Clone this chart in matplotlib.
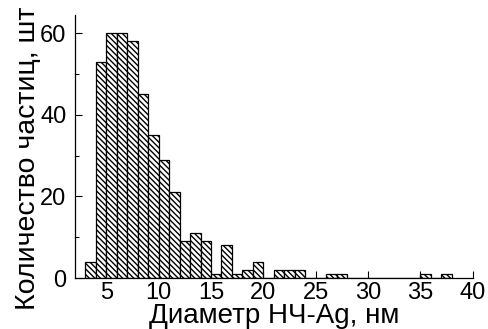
import matplotlib.pyplot as plt
import numpy as np

plt.rcParams['font.family'] = ['Liberation Sans', 'DejaVu Sans']
plt.rcParams['hatch.linewidth'] = 1.0

# bin left edges (nm) and particle counts
bin_left = np.arange(3, 38)
counts = [4, 53, 60, 60, 58, 45, 35, 29, 21, 9, 11, 9, 1, 8, 1, 2, 4, 0,
          2, 2, 2, 0, 0, 1, 1, 0, 0, 0, 0, 0, 0, 0, 1, 0, 1]

fig = plt.figure(figsize=(4.89, 3.29), dpi=100)
ax = fig.add_axes([0.153, 0.155, 0.814, 0.799])

ax.bar(bin_left, counts, width=1, align='edge', color='white',
       edgecolor='black', linewidth=0.9, hatch='\\' * 6)

ax.set_xlim(2, 40)
ax.set_ylim(0, 64.4)
ax.set_xticks(np.arange(5, 41, 5))
ax.set_yticks([0, 20, 40, 60])
ax.set_yticks([10, 30, 50], minor=True)
ax.tick_params(axis='both', which='major', direction='in', length=5,
               width=0.8, labelsize=17)
ax.tick_params(axis='x', pad=3)
ax.tick_params(axis='y', pad=6)
ax.tick_params(axis='y', which='minor', direction='in', length=3, width=0.8)
for s in ['top', 'right']:
    ax.spines[s].set_visible(False)
for s in ['left', 'bottom']:
    ax.spines[s].set_linewidth(0.9)

ax.set_xlabel('Диаметр НЧ-Ag, нм', fontsize=20, labelpad=-1)
ax.set_ylabel('Количество частиц, шт', fontsize=20.5)
ax.yaxis.set_label_coords(-0.085, 0.456)

fig.savefig('out.png', dpi=100)
